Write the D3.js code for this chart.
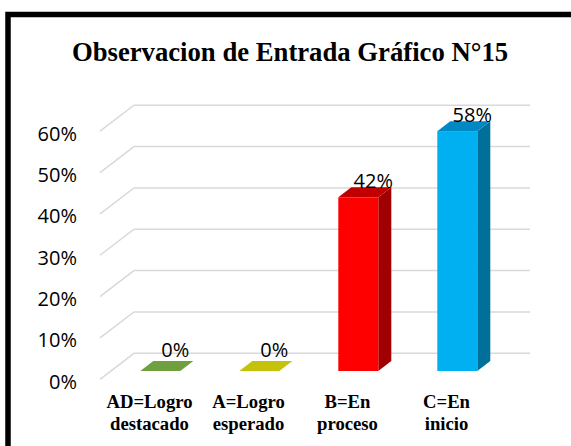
<!DOCTYPE html>
<meta charset="utf-8">
<style>
    body { margin: 0; background: #fff; }
    .tick-label { font-family: "Open Sans", sans-serif; font-size: 20px; fill: #000; }
    .data-label { font-family: "Open Sans", sans-serif; font-size: 20px; fill: #000; }
    .cat-label { font-family: "Liberation Serif", "Times New Roman", serif; font-size: 18.7px; font-weight: bold; fill: #000; }
    .title { font-family: "Liberation Serif", "Times New Roman", serif; font-size: 26.7px; font-weight: bold; fill: #000; }
</style>
<svg width="571" height="446"></svg>
<script src="https://d3js.org/d3.v7.min.js"></script>
<script>
    // data
    var categories = [["AD=Logro", "destacado"], ["A=Logro", "esperado"], ["B=En", "proceso"], ["C=En", "inicio"]];
    var values = [0, 0, 0.42, 0.58];
    var labels = ["0%", "0%", "42%", "58%"];
    var ticks = [0, 0.1, 0.2, 0.3, 0.4, 0.5, 0.6];
    var titleText = "Observacion de Entrada Gráfico N°15";

    // colours per bar: front, side, top
    var colors = [
        {front: "#70ad47", side: "#507e32", top: "#6f9f3f"},
        {front: "#c8c800", side: "#9a9a00", top: "#c4c20a"},
        {front: "#ff0000", side: "#a00000", top: "#c00000"},
        {front: "#00b0f0", side: "#006f9a", top: "#0088c4"}
    ];

    var svg = d3.select("svg"),
        width = +svg.attr("width"),
        height = +svg.attr("height");

    svg.append("rect").attr("width", width).attr("height", height).attr("fill", "#fff");

    // frame (right and bottom edges run off the picture)
    svg.append("rect")
        .attr("x", 8).attr("y", 14.5)
        .attr("width", 620).attr("height", 500)
        .attr("fill", "none")
        .attr("stroke", "#000")
        .attr("stroke-width", 5.5);

    svg.append("text")
        .attr("class", "title")
        .attr("x", 290).attr("y", 61)
        .attr("text-anchor", "middle")
        .text(titleText);

    // 3d geometry
    var depthX = 34, depthY = -26;
    var x = d3.scaleBand()
        .domain(d3.range(categories.length))
        .range([100, 496]);
    var y = d3.scaleLinear()
        .domain([0, 0.6])
        .range([379.3, 131.2]);

    // gridlines: diagonal on the floor/wall, then along the back wall
    var grid = svg.append("g");
    grid.selectAll("path")
        .data(ticks).enter()
        .append("path")
        .attr("d", function (t) {
            return "M" + x.range()[0] + "," + y(t) +
                "L" + (x.range()[0] + depthX) + "," + (y(t) + depthY) +
                "H" + (x.range()[1] + depthX);
        })
        .attr("fill", "none")
        .attr("stroke", "#d9d9d9")
        .attr("stroke-width", 1.5);

    svg.append("g").selectAll("text")
        .data(ticks).enter()
        .append("text")
        .attr("class", "tick-label")
        .attr("x", 77)
        .attr("y", function (t) { return y(t) + 2; })
        .attr("text-anchor", "end")
        .attr("dominant-baseline", "central")
        .text(d3.format(".0%"));

    // bars sit part way into the depth
    var barW = 40,
        offX = 10.8, offY = -8.3,   // front face shift into the depth
        bdx = 13, bdy = -10;        // bar depth

    var rows = values.map(function (v, i) { return {v: v, i: i}; });

    var bars = svg.append("g").selectAll("g")
        .data(rows).enter()
        .append("g");

    function fx(i) { return x(i) + x.bandwidth() / 2 - barW / 2 + offX; }
    function barBase() { return y(0) + offY; }
    function barTop(v) { return y(v) + offY; }

    var solid = bars.filter(function (d) { return d.v > 0; });

    // side
    solid.append("path")
        .attr("d", function (d) {
            var x1 = fx(d.i) + barW;
            return "M" + x1 + "," + barBase() + "L" + x1 + "," + barTop(d.v) +
                "L" + (x1 + bdx) + "," + (barTop(d.v) + bdy) +
                "L" + (x1 + bdx) + "," + (barBase() + bdy) + "Z";
        })
        .attr("fill", function (d) { return colors[d.i].side; });

    // front
    solid.append("rect")
        .attr("x", function (d) { return fx(d.i); })
        .attr("y", function (d) { return barTop(d.v); })
        .attr("width", barW)
        .attr("height", function (d) { return barBase() - barTop(d.v); })
        .attr("fill", function (d) { return colors[d.i].front; });

    // top
    bars.append("path")
        .attr("d", function (d) {
            var x0 = fx(d.i), t = barTop(d.v);
            return "M" + x0 + "," + t + "L" + (x0 + barW) + "," + t +
                "L" + (x0 + barW + bdx) + "," + (t + bdy) +
                "L" + (x0 + bdx) + "," + (t + bdy) + "Z";
        })
        .attr("fill", function (d) { return colors[d.i].top; });

    // data labels
    bars.append("text")
        .attr("class", "data-label")
        .attr("text-anchor", "middle")
        .attr("x", function (d) { return fx(d.i) + bdx + barW / 2 + 2; })
        .attr("y", function (d) { return Math.min(barTop(d.v) + bdy + 1, barBase() + bdy - 4); })
        .text(function (d) { return labels[d.i]; });

    // category labels
    var cats = svg.append("g").selectAll("text")
        .data(categories).enter()
        .append("text")
        .attr("class", "cat-label")
        .attr("text-anchor", "middle")
        .attr("x", function (d, i) { return x(i) + x.bandwidth() / 2; })
        .attr("y", 408);
    cats.selectAll("tspan")
        .data(function (d) { return d; }).enter()
        .append("tspan")
        .attr("x", function () { return d3.select(this.parentNode).attr("x"); })
        .attr("dy", function (d, j) { return j ? 21.7 : 0; })
        .text(function (d) { return d; });
</script>
